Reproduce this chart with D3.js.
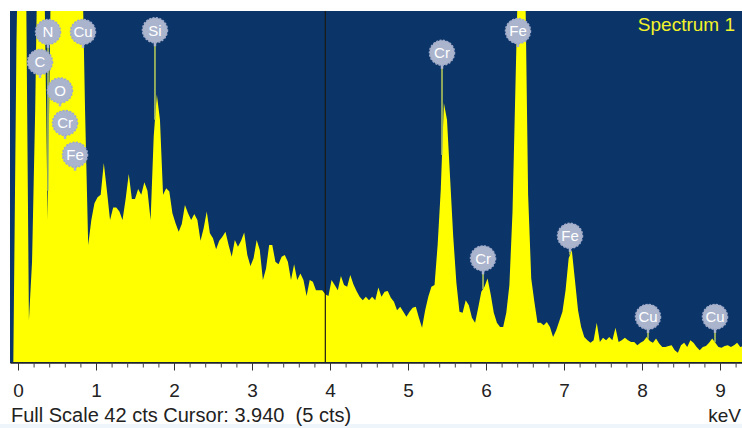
<!DOCTYPE html>
<html>
<head>
<meta charset="utf-8">
<script src="https://cdn.jsdelivr.net/npm/d3@7"></script>
<style>
  body { margin: 0; background: #fff; }
  svg { display: block; font-family: "Liberation Sans", Arial, sans-serif; }
</style>
</head>
<body>
<div id="spectrum"></div>
<script>
// spectrum channels: first channel energy and channel width (keV)
var startKeV = -0.10;
var stepKeV = 0.04;
// counts per channel
var counts = [
  0, 0, 38, 60, 60, 50, 5, 12, 30, 55,
  60, 45, 17, 45, 60, 60, 60, 60, 60, 60,
  60, 60, 60, 50, 30, 14, 17, 19, 19.7, 20,
  23.8, 20.5, 17, 18.5, 18.5, 18, 17, 19.5, 22.5, 19.5,
  19.5, 20.7, 20, 21.5, 20.5, 17, 27, 32, 29, 20,
  20.8, 20.4, 17.8, 16.6, 15.6, 16.5, 18.8, 17.8, 17, 17.7,
  17, 14.5, 16, 18, 15.4, 14.8, 13.5, 14.5, 15, 15.6,
  14, 12.6, 14.6, 13.8, 14.5, 15.5, 12.8, 11.5, 12.4, 14.6,
  13.4, 9.8, 11.2, 14, 14, 12, 11.7, 12.6, 12.8, 12,
  9.8, 11.7, 9.8, 10.6, 9.8, 7.9, 9.8, 9.6, 8.6, 8.6,
  8.6, 8.1, 7.9, 9.8, 9.2, 8.6, 10.3, 9.2, 9, 10.4,
  9.3, 8.5, 7.8, 7.4, 7.8, 7.4, 7.8, 7.4, 8.9, 7.8,
  8.4, 8.5, 7.7, 7.2, 6.2, 6.6, 6, 5.4, 6, 6.5,
  6.6, 5.3, 4.1, 6.2, 7.8, 9, 9.2, 14, 20.6, 31,
  29, 22, 15, 9.5, 6, 5.9, 7.4, 6.8, 5.3, 4.7,
  6.5, 8.4, 9, 10, 8.1, 5.9, 4.7, 4.2, 4.2, 5.9,
  9.2, 18, 34, 50, 52, 48, 20, 10, 7.2, 4.7,
  4.7, 4.4, 4.8, 4.2, 3, 3.8, 4.9, 6, 8.6, 12.4,
  13.4, 9.8, 6.2, 4.2, 3, 2.6, 2.3, 2.6, 4.7, 2.4,
  2.9, 2.6, 3, 2.6, 4.1, 2.4, 2.6, 2.9, 2.6, 2.4,
  2.4, 2, 2.3, 2.5, 3, 2.5, 2.3, 2.8, 2.2, 1.8,
  1.8, 1.9, 2, 1.4, 1.1, 2, 2.3, 1.8, 2.6, 2.3,
  1.8, 1.4, 1.8, 1.9, 2.3, 2.8, 2.3, 1.8, 1.7, 1.9,
  2, 1.8, 2, 2.3, 1.8, 1.9
];
// peak labels: element, energy (keV) and height (cts) of the badge
var labelNames = ["N", "Cu", "C", "O", "Cr", "Fe", "Si", "Cr", "Fe", "Cr", "Fe", "Cu", "Cu"];
var labelKeV = [0.385, 0.833, 0.282, 0.538, 0.603, 0.731, 1.756, 5.436, 6.41, 5.962, 7.077, 8.077, 8.936];
var labelCts = [39.5, 39.5, 35.9, 32.5, 28.6, 24.8, 39.7, 37, 39.6, 12.4, 15.1, 5.4, 5.4];
var majorTicks = [0, 1, 2, 3, 4, 5, 6, 7, 8, 9];
var fullScale = 42;
var cursorKeV = 3.940;
var cursorCts = 5;
var spectrumName = "Spectrum 1";

var W = 742, H = 428;
var plotLeft = 10, plotRight = 742, plotTop = 11, plotBottom = 362;

var data = counts.map(function(c, i) { return {e: startKeV + i * stepKeV, c: c}; });

var svg = d3.select("#spectrum")
  .append("svg")
    .attr("width", W)
    .attr("height", H);

var x = d3.scaleLinear()
  .domain([(plotLeft - 18) / 78, (plotRight - 18) / 78])
  .range([plotLeft, plotRight]);
var y = d3.scaleLinear()
  .domain([0, fullScale])
  .range([plotBottom, plotTop]);

svg.append("rect")
  .attr("x", 0).attr("y", 424).attr("width", W).attr("height", H - 424)
  .attr("fill", "#eef6fb");

svg.append("clipPath").attr("id", "plotclip")
  .append("rect")
    .attr("x", plotLeft).attr("y", plotTop)
    .attr("width", plotRight - plotLeft).attr("height", plotBottom - plotTop);

// background of the plot area
svg.append("rect")
  .attr("x", plotLeft).attr("y", plotTop)
  .attr("width", plotRight - plotLeft).attr("height", plotBottom - plotTop + 1)
  .attr("fill", "#0b3468");

var plot = svg.append("g").attr("clip-path", "url(#plotclip)");

// the spectrum itself
var area = d3.area()
  .x(function(d) { return x(d.e); })
  .y0(plotBottom)
  .y1(function(d) { return y(d.c); });
plot.append("path")
  .datum(data)
  .attr("d", area)
  .attr("fill", "#ffff00");

// cursor line
plot.append("line")
  .attr("x1", x(cursorKeV)).attr("x2", x(cursorKeV))
  .attr("y1", plotTop).attr("y2", plotBottom)
  .attr("stroke", "#1c1c14")
  .attr("stroke-width", 1.2);

// axis: minor ticks every 0.2 keV, labels on whole keV
var minor = d3.range(0, 9.3, 0.2);
svg.append("g")
  .attr("transform", "translate(0," + (plotBottom + 0.5) + ")")
  .call(d3.axisBottom(x).tickValues(minor).tickSize(5).tickSizeOuter(0).tickFormat(""))
  .call(function(g) {
    g.select(".domain").attr("stroke", "#222").attr("stroke-width", 1.5);
    g.selectAll(".tick line").attr("stroke", "#444");
  });
svg.append("g")
  .attr("transform", "translate(0," + (plotBottom + 0.5) + ")")
  .call(d3.axisBottom(x).tickValues(majorTicks).tickSize(8).tickSizeOuter(0).tickFormat(d3.format("d")))
  .call(function(g) {
    g.select(".domain").remove();
    g.selectAll(".tick line").attr("stroke", "#333");
    g.selectAll(".tick text")
      .attr("y", 34).attr("dy", 0)
      .attr("fill", "#222")
      .style("font-size", "19px");
  });

// footer texts
svg.append("text")
  .attr("x", 11).attr("y", 422)
  .attr("fill", "#222")
  .style("font-size", "20px")
  .style("white-space", "pre")
  .text("Full Scale " + fullScale + " cts Cursor: " + d3.format(".3f")(cursorKeV) + "  (" + cursorCts + " cts)");
svg.append("text")
  .attr("x", 741).attr("y", 422)
  .attr("text-anchor", "end")
  .attr("fill", "#222")
  .style("font-size", "19px")
  .text("keV");

svg.append("text")
  .attr("x", 735).attr("y", 31)
  .attr("text-anchor", "end")
  .attr("fill", "#f2f22a")
  .style("font-size", "19px")
  .text(spectrumName);

// peak label badges with a stem down to the spectrum
function countAt(e) {
  var i = Math.floor((e - startKeV) / stepKeV);
  var t = (e - startKeV) / stepKeV - i;
  return counts[i] * (1 - t) + counts[i + 1] * t;
}
var badges = plot.selectAll("g.badge")
  .data(labelNames.map(function(n, i) { return {name: n, e: labelKeV[i], c: labelCts[i]}; }))
  .enter()
  .append("g")
    .attr("class", "badge")
    .attr("transform", function(d) { return "translate(" + x(d.e) + "," + y(d.c) + ")"; });
badges.append("line")
  .attr("x1", 0).attr("x2", 0)
  .attr("y1", 10)
  .attr("y2", function(d) { return Math.max(10, y(countAt(d.e)) - y(d.c)); })
  .attr("stroke", "#b9cf58")
  .attr("stroke-width", 1.5);
badges.append("line")
  .attr("x1", 0).attr("x2", 0)
  .attr("y1", 10).attr("y2", 16)
  .attr("stroke", "#aab4cd")
  .attr("stroke-width", 2.5);
badges.append("circle")
  .attr("r", 12.5)
  .attr("fill", "#aab4cd")
  .attr("stroke", "#9fa9c8")
  .attr("stroke-width", 1.5)
  .attr("stroke-dasharray", "2,1.5");
badges.append("text")
  .attr("text-anchor", "middle")
  .attr("dy", "0.36em")
  .attr("fill", "#ffffff")
  .style("font-size", "15px")
  .text(function(d) { return d.name; });
</script>
</body>
</html>
